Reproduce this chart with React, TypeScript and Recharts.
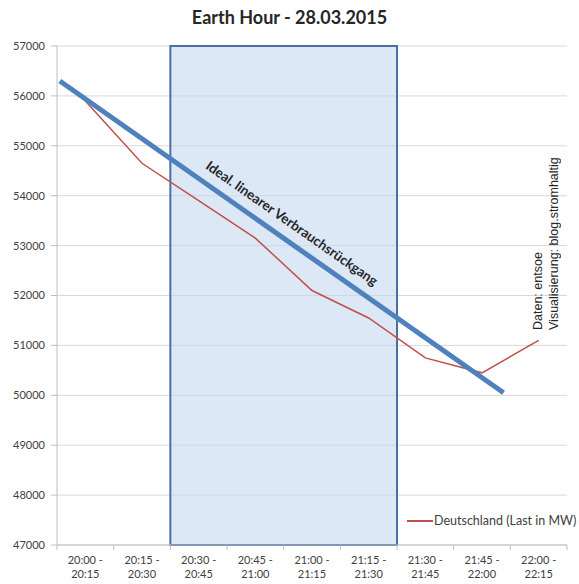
import React from 'react'
import {
  LineChart,
  Line,
  XAxis,
  YAxis,
  CartesianGrid,
  ReferenceArea,
} from 'recharts'

// quarter-hour slots (two-line tick labels)
const slotFrom = ['20:00', '20:15', '20:30', '20:45', '21:00', '21:15', '21:30', '21:45', '22:00']
const slotTo = ['20:15', '20:30', '20:45', '21:00', '21:15', '21:30', '21:45', '22:00', '22:15']

// Deutschland, Last in MW
const loadMW = [55900, 54650, 53900, 53150, 52100, 51550, 50750, 50450, 51100]

// hand-drawn "ideal" line (start / end, in slot units)
const idealX = [0.05, 7.88]
const idealMW = [56300, 50050]

// Earth Hour window: 20:30 - 21:30
const hourStart = 2
const hourEnd = 6

const yTicks = [47000, 48000, 49000, 50000, 51000, 52000, 53000, 54000, 55000, 56000, 57000]
const xBounds = [0, 1, 2, 3, 4, 5, 6, 7, 8, 9]

const seriesData = loadMW.map((v, i) => ({ x: i + 0.5, load: v }))
const idealData = idealX.map((x, i) => ({ x, load: idealMW[i] }))

const W = 579
const H = 584
const M = { top: 46, right: 12, bottom: 0, left: 0 }
const Y_W = 57
const bandW = (W - M.left - M.right - Y_W) / slotFrom.length

const font = 'Lato, "Open Sans", sans-serif'
const textGrey = '#404040'

function SlotTick(props: any) {
  const { x, y, payload } = props
  const i = payload.value
  if (i >= slotFrom.length) return <g />
  return (
    <text x={x + bandW / 2} y={y} textAnchor="middle" fill={textGrey} fontSize={11} fontFamily={font}>
      <tspan x={x + bandW / 2} dy={12}>{slotFrom[i]} -</tspan>
      <tspan x={x + bandW / 2} dy={14}>{slotTo[i]}</tspan>
    </text>
  )
}

export default function App() {
  return (
    <div style={{ position: 'absolute', left: 0, top: 0, width: W, height: H, background: '#fff', overflow: 'hidden' }}>
      <div
        style={{
          position: 'absolute', top: 5, left: 0, width: W, textAlign: 'center',
          fontFamily: font, fontWeight: 700, fontSize: 18, color: '#262626', lineHeight: '24px',
        }}
      >
        Earth Hour - 28.03.2015
      </div>

      <LineChart width={W} height={H} data={seriesData} margin={M}>
        <CartesianGrid vertical={false} stroke="#d9d9d9" />
        <ReferenceArea
          x1={hourStart}
          x2={hourEnd}
          y1={47000}
          y2={57000}
          fill="#c6d9f0"
          fillOpacity={0.6}
          stroke="#4a6fa5"
          strokeWidth={2}
          strokeOpacity={1}
        />
        <XAxis
          dataKey="x"
          type="number"
          domain={[0, 9]}
          ticks={xBounds}
          interval={0}
          height={39}
          axisLine={{ stroke: '#bfbfbf' }}
          tickLine={{ stroke: '#bfbfbf' }}
          tickSize={5}
          tick={<SlotTick />}
        />
        <YAxis
          width={Y_W}
          domain={[47000, 57000]}
          ticks={yTicks}
          interval={0}
          axisLine={{ stroke: '#bfbfbf' }}
          tickLine={{ stroke: '#bfbfbf' }}
          tickSize={6}
          tickMargin={6}
          tick={{ fill: textGrey, fontSize: 11, fontFamily: font }}
        />
        <Line
          dataKey="load"
          stroke="#c0504d"
          strokeWidth={1.5}
          dot={false}
          isAnimationActive={false}
        />
        <Line
          data={idealData}
          dataKey="load"
          stroke="#4f81bd"
          strokeWidth={5}
          dot={false}
          isAnimationActive={false}
        />
      </LineChart>

      {/* annotation along the ideal line */}
      <div
        style={{
          position: 'absolute', left: 292, top: 223, transform: 'translate(-50%, -50%) rotate(35deg)',
          whiteSpace: 'nowrap', fontFamily: font, fontWeight: 700, fontSize: 13.5, color: '#262626',
        }}
      >
        Ideal. linearer Verbrauchsrückgang
      </div>

      {/* source note */}
      <div
        style={{
          position: 'absolute', left: 530, top: 130, height: 200,
          writingMode: 'vertical-rl', transform: 'rotate(180deg)', textAlign: 'start',
          whiteSpace: 'nowrap', fontFamily: '"Liberation Sans", Arial, sans-serif', fontSize: 12.5,
          lineHeight: '16px', color: '#262626',
        }}
      >
        Daten: entsoe
        <br />
        Visualisierung: blog.stromhaltig
      </div>

      {/* legend */}
      <div
        style={{
          position: 'absolute', left: 407, top: 513, display: 'flex', alignItems: 'center',
          whiteSpace: 'nowrap', fontFamily: font, fontSize: 12.5, color: textGrey,
        }}
      >
        <span style={{ display: 'inline-block', width: 26, height: 2, background: '#c0504d', marginRight: 1 }} />
        Deutschland (Last in MW)
      </div>
    </div>
  )
}
